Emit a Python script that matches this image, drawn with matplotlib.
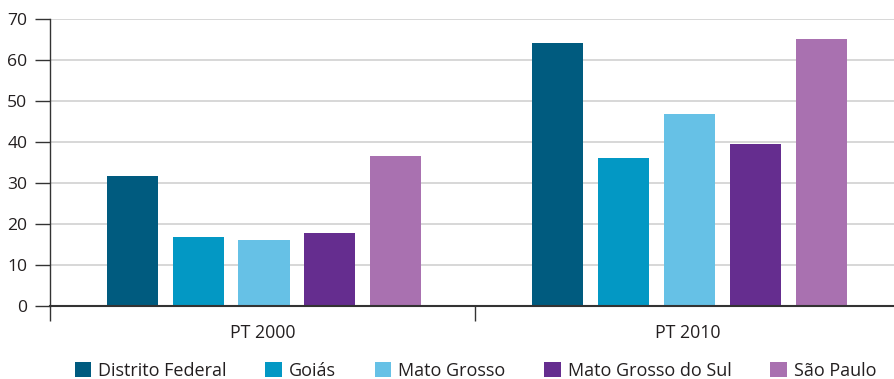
import matplotlib.pyplot as plt
from matplotlib.patches import Patch
import numpy as np

plt.rcParams['font.family'] = ['Open Sans', 'DejaVu Sans']

periods = ['PT 2000', 'PT 2010']
states = ['Distrito Federal', 'Goiás', 'Mato Grosso', 'Mato Grosso do Sul', 'São Paulo']
values = {
    'Distrito Federal': [31.7, 64.2],
    'Goiás': [16.9, 36.1],
    'Mato Grosso': [16.0, 46.9],
    'Mato Grosso do Sul': [17.9, 39.6],
    'São Paulo': [36.6, 65.2],
}
colors = ['#005b7f', '#0398c4', '#66c1e6', '#652d8f', '#a971b0']
yticks = [0, 10, 20, 30, 40, 50, 60, 70]

txt = '#231f20'
fig = plt.figure(figsize=(8.94, 3.79), dpi=100)
ax = fig.add_axes([49.6 / 894, 73 / 379, 1 - 49.6 / 894, 287 / 379])

x = np.arange(len(periods))
step = 0.155   # distance between bars
width = 0.12   # bar width
for i, (st, c) in enumerate(zip(states, colors)):
    ax.bar(x + (i - 2) * step + 0.004, values[st], width, color=c, zorder=3)

ax.set_xlim(-0.5, 0.5 + (894 - 475) / 425.4)
ax.set_ylim(0, 70)
ax.set_yticks(yticks)
ax.yaxis.grid(True, color='#d4d4d4', linewidth=1.3, zorder=0)
ax.tick_params(axis='y', length=11, width=1, color='#333333', pad=5,
               labelsize=12.6, labelcolor=txt)

# category ticks at the boundaries, labels in the middle
ax.set_xticks([-0.5, 0.5])
ax.set_xticklabels([])
ax.tick_params(axis='x', which='major', length=11, width=1, color='#333333')
ax.set_xticks(x, minor=True)
ax.set_xticklabels(periods, minor=True)
ax.tick_params(axis='x', which='minor', length=0, pad=13, labelsize=12.8, labelcolor=txt)

for s in ['top', 'right']:
    ax.spines[s].set_visible(False)
ax.spines['left'].set_color('#333333')
ax.spines['left'].set_linewidth(1)
ax.spines['bottom'].set_color('#333333')
ax.spines['bottom'].set_linewidth(1.5)
ax.spines['bottom'].set_zorder(4)

handles = [Patch(facecolor=c, label=s) for s, c in zip(states, colors)]
fig.legend(handles=handles, loc='center', bbox_to_anchor=(475.5 / 894, 8 / 379),
           ncol=5, frameon=False, fontsize=13, handlelength=0.9, handleheight=0.9,
           handletextpad=0.4, columnspacing=2.15, labelcolor=txt)

fig.savefig('out.png', dpi=100)
